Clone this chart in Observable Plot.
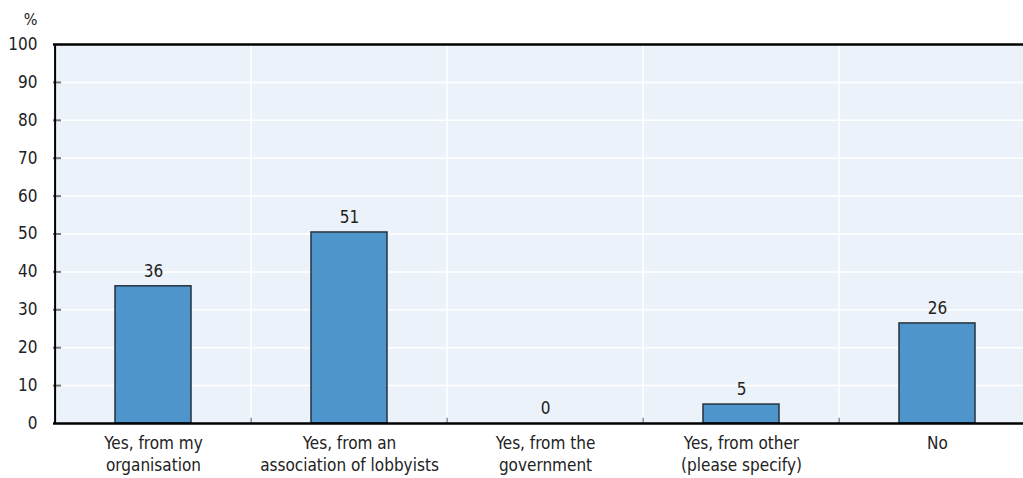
<!DOCTYPE html>
<html>
<head>
<meta charset="utf-8">
<script src="https://cdn.jsdelivr.net/npm/d3@7"></script>
<script src="https://cdn.jsdelivr.net/npm/@observablehq/plot@0.6"></script>
<style>
  html, body { margin: 0; padding: 0; background: #fff; overflow: hidden; }
  #chart svg { font-family: "DejaVu Sans Condensed", "Liberation Sans Narrow", sans-serif; }
</style>
</head>
<body>
<div id="chart"></div>
<script>
const categories = [
  "Yes, from my\norganisation",
  "Yes, from an\nassociation of lobbyists",
  "Yes, from the\ngovernment",
  "Yes, from other\n(please specify)",
  "No"
];
const values = [36.2, 50.4, 0, 5.0, 26.4];
const valueLabels = ["36", "51", "0", "5", "26"];
const yTicks = [0, 10, 20, 30, 40, 50, 60, 70, 80, 90, 100];
const gridTicks = [10, 20, 30, 40, 50, 60, 70, 80, 90];

const data = categories.map((c, i) => ({category: c, value: values[i], label: valueLabels[i]}));

const width = 1023, height = 478;
const marginLeft = 53, marginRight = -14, marginTop = 44, marginBottom = 55;
const paddingInner = 0.61, paddingOuter = 0.305;
const plotWidth = width - marginLeft - marginRight;
const step = plotWidth / categories.length;
const boundaryOffset = -step / 2;
const yTickLength = 8;

const chart = Plot.plot({
  width, height, marginLeft, marginRight, marginTop, marginBottom,
  style: {fontSize: "17px", background: "white"},
  x: {domain: categories, paddingInner, paddingOuter, label: null},
  y: {domain: [0, 100], label: null},
  marks: [
    Plot.frame({fill: "#EBF2FA", stroke: null}),
    Plot.ruleY(gridTicks, {stroke: "#ffffff", strokeWidth: 1.5}),
    Plot.ruleX(categories.slice(1), {x: d => d, dx: boundaryOffset, stroke: "#ffffff", strokeWidth: 1.5}),
    Plot.ruleX(categories.slice(1), {x: d => d, dx: boundaryOffset, y1: 0, y2: 1.4, stroke: "#555", strokeWidth: 1}),
    Plot.ruleY(gridTicks, {insetRight: plotWidth - yTickLength, stroke: "#777", strokeWidth: 2}),
    Plot.axisY(yTicks, {tickSize: 0, tickPadding: 16, fontSize: 17, fill: "#222"}),
    Plot.barY(data, {x: "category", y: "value", fill: "#4E95CB", stroke: "#26323e", strokeWidth: 1.5}),
    Plot.text(data, {x: "category", y: "value", text: "label", dy: -15, fontSize: 17, fill: "#222"}),
    Plot.ruleY([0], {stroke: "#000", strokeWidth: 2.5}),
    Plot.ruleY([100], {stroke: "#000", strokeWidth: 2.5}),
    Plot.ruleX([categories[0]], {x: d => d, dx: boundaryOffset, stroke: "#000", strokeWidth: 2}),
    Plot.axisX({tickSize: 0, tickPadding: 10, fontSize: 17, lineHeight: 1.3, fill: "#222"}),
    Plot.text(["%"], {frameAnchor: "top-left", textAnchor: "end", dx: -16, dy: -31, fontSize: 16, fill: "#222"})
  ]
});
document.getElementById("chart").appendChild(chart);
</script>
</body>
</html>
